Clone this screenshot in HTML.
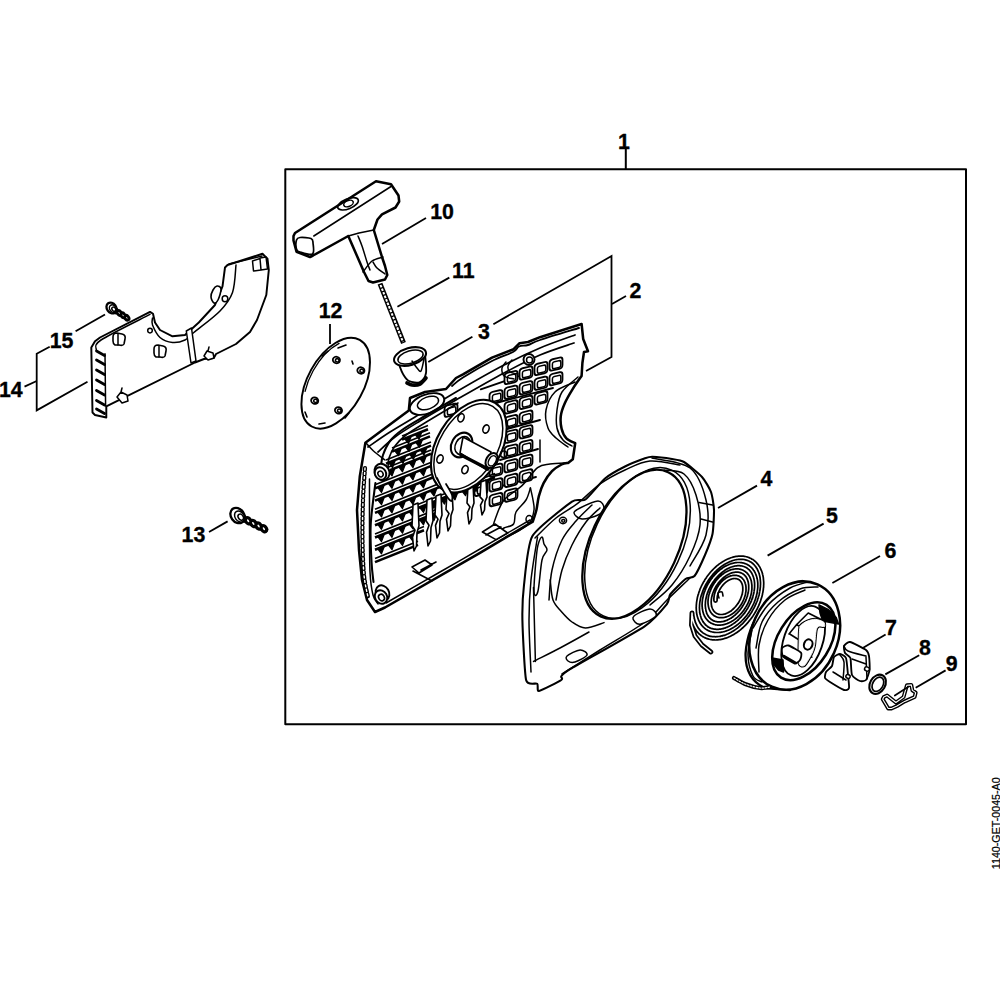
<!DOCTYPE html>
<html><head><meta charset="utf-8">
<style>
html,body{margin:0;padding:0;background:#fff;}
svg{display:block;}
text{font-family:"Liberation Sans",sans-serif;font-weight:bold;font-size:22px;fill:#000;stroke:#000;stroke-width:0.35px;text-anchor:middle;}
</style></head><body>
<svg width="1000" height="1000" viewBox="0 0 1000 1000" stroke-linejoin="round" stroke-linecap="round">
<rect width="1000" height="1000" fill="#fff"/>
<g fill="none" stroke="#000" stroke-width="2" stroke-linecap="square"><rect x="285.3" y="169.2" width="680.7" height="555"/><path d="M625.8 150 V169"/></g>
<g fill="none" stroke="#000" stroke-width="1.8" stroke-linecap="butt" stroke-linejoin="miter"><path d="M382 244 L426 218"/><path d="M397.4 306.7 L449.3 277.6"/><path d="M428.3 362 L472.4 336.8"/><path d="M493.4 324.2 L611.5 256 V357 L586 371"/><path d="M612 304 L626 296"/><path d="M330 324 V344"/><path d="M718 508 L757 485.6"/><path d="M767.6 555.6 L823.6 523.6"/><path d="M832.4 583 L880 556"/><path d="M863.2 647.7 L885.6 634.4"/><path d="M885.3 674.4 L919.2 655.2"/><path d="M915.7 687.7 L945.6 670.4"/><path d="M209 532 L227.6 521.4"/><path d="M75.6 331.3 L105 314.5"/><path d="M24.5 386.6 L36.7 381"/><path d="M49.7 346.7 L36.7 353.7 V410.4 L87.5 381.7"/></g>
<text transform="translate(624,149.3) scale(0.97,1)" x="0" y="0">1</text>
<text transform="translate(442,219.3) scale(0.97,1)" x="0" y="0">10</text>
<text transform="translate(463.3,278.1) scale(0.97,1)" x="0" y="0">11</text>
<text transform="translate(635.3,297.8) scale(0.97,1)" x="0" y="0">2</text>
<text transform="translate(484,339.0) scale(0.97,1)" x="0" y="0">3</text>
<text transform="translate(330.5,318.1) scale(0.97,1)" x="0" y="0">12</text>
<text transform="translate(766.5,485.8) scale(0.97,1)" x="0" y="0">4</text>
<text transform="translate(832,522.8) scale(0.97,1)" x="0" y="0">5</text>
<text transform="translate(890.5,557.8) scale(0.97,1)" x="0" y="0">6</text>
<text transform="translate(891,635.2) scale(0.97,1)" x="0" y="0">7</text>
<text transform="translate(925,655.2) scale(0.97,1)" x="0" y="0">8</text>
<text transform="translate(951.6,671.2) scale(0.97,1)" x="0" y="0">9</text>
<text transform="translate(193.4,542.4) scale(0.97,1)" x="0" y="0">13</text>
<text transform="translate(10.8,396.5) scale(0.97,1)" x="0" y="0">14</text>
<text transform="translate(61.6,348.2) scale(0.97,1)" x="0" y="0">15</text>
<text x="0" y="0" transform="translate(1000.3,869.2) rotate(-90) scale(0.93,1)" style="font-weight:normal;font-size:11.5px;stroke-width:0.25px;text-anchor:start">1140-GET-0045-A0</text>
<path d="M293.5 236.0 L295.0 233.0 L376.0 181.3 L391.0 184.3 L398.5 195.5 L399.2 201.5 L395.5 207.5 L382.0 214.3 L377.5 219.5 L373.8 230.0 L382.0 257.0 L385.0 266.0 L387.3 275.0 L385.0 279.5 L373.0 282.5 L368.5 281.0 L364.0 272.0 L348.3 236.0 L313.0 255.5 L310.0 257.0 L296.5 251.8 L293.5 240.5 Z" fill="#fff" stroke="#000" stroke-width="2.53" />
<path d="M313.8 236.0 L391.0 186.5" fill="none" stroke="#000" stroke-width="1.5" />
<path d="M296.5 240.0 C297.1 238.1 297.6 237.8 300.0 237.5 C302.4 237.2 308.8 237.6 311.0 238.5 C313.2 239.4 312.8 240.4 313.0 243.0 C313.2 245.6 314.7 252.5 312.5 254.0 C310.3 255.5 302.7 252.8 300.0 252.0 C297.3 251.2 297.1 251.0 296.5 249.0 C295.9 247.0 295.9 241.9 296.5 240.0 Z" fill="none" stroke="#000" stroke-width="1.72" />
<ellipse cx="348" cy="203.8" rx="11" ry="5" transform="rotate(-22 348 203.8)" fill="none" stroke="#000" stroke-width="1.61" />
<ellipse cx="348.5" cy="203.5" rx="5" ry="3" transform="rotate(-22 348.5 203.5)" fill="none" stroke="#000" stroke-width="1.5" />
<path d="M348.3 236.0 L359.0 233.0 L373.8 230.0" fill="none" stroke="#000" stroke-width="1.5" />
<path d="M358.0 236.0 C358.7 237.7 360.5 241.7 362.0 246.0 C363.5 250.3 365.7 258.0 367.0 262.0 C368.3 266.0 369.5 268.7 370.0 270.0" fill="none" stroke="#000" stroke-width="1.5" />
<path d="M363.0 272.0 C364.5 270.2 368.7 263.5 372.0 261.0 C375.3 258.5 381.2 257.7 383.0 257.0" fill="none" stroke="#000" stroke-width="1.5" />
<path d="M373.0 262.0 C373.7 263.0 375.0 266.0 377.0 268.0 C379.0 270.0 383.7 273.0 385.0 274.0" fill="none" stroke="#000" stroke-width="1.5" />
<path d="M380.0 283.6 L403.5 343.0" fill="none" stroke="#000" stroke-width="5.06" stroke-linecap="butt"/>
<path d="M380.5 285.0 L403.0 342.0" fill="none" stroke="#fff" stroke-width="2.0" stroke-dasharray="2.6 1.2" stroke-linecap="butt"/>
<path d="M399.6 366.0 C400.2 367.3 401.4 371.5 403.0 374.0 C404.6 376.5 406.2 379.7 409.0 381.0 C411.8 382.3 417.2 383.3 420.0 382.0 C422.8 380.7 425.2 377.7 426.0 373.0 C426.8 368.3 425.2 357.2 425.0 354.0" fill="#fff" stroke="#000" stroke-width="1.84" />
<ellipse cx="410" cy="356.5" rx="16.5" ry="8.5" transform="rotate(-16 410 356.5)" fill="#fff" stroke="#000" stroke-width="2.07" />
<ellipse cx="410.5" cy="357" rx="13" ry="6.2" transform="rotate(-16 410.5 357)" fill="none" stroke="#000" stroke-width="1.5" />
<path d="M407.0 383.0 C407.8 383.3 409.8 384.8 412.0 385.0 C414.2 385.2 417.7 385.2 420.0 384.0 C422.3 382.8 425.0 379.0 426.0 378.0" fill="none" stroke="#000" stroke-width="3.68" />
<path d="M412.0 361.0 C412.8 362.2 415.5 366.3 417.0 368.0 C418.5 369.7 419.8 372.5 421.0 371.0 C422.2 369.5 423.5 361.0 424.0 359.0" fill="none" stroke="#000" stroke-width="1.5" />
<ellipse cx="335.7" cy="383.2" rx="28" ry="49.5" transform="rotate(29 335.7 383.2)" fill="#fff" stroke="#000" stroke-width="1.95" />
<ellipse cx="335.7" cy="383.2" rx="25.8" ry="47.3" transform="rotate(29 335.7 383.2)" fill="none" stroke="#000" stroke-width="1.3" stroke-dasharray="60 200" stroke-dashoffset="-95"/>
<ellipse cx="336.4" cy="360" rx="3.6" ry="3.2" transform="rotate(20 336.4 360)" fill="none" stroke="#000" stroke-width="1.84" />
<ellipse cx="337.2" cy="360.3" rx="1.8" ry="1.6" transform="rotate(20 337.2 360.3)" fill="none" stroke="#000" stroke-width="1.5" />
<ellipse cx="360.9" cy="370.5" rx="3.6" ry="3.2" transform="rotate(20 360.9 370.5)" fill="none" stroke="#000" stroke-width="1.84" />
<ellipse cx="361.7" cy="370.8" rx="1.8" ry="1.6" transform="rotate(20 361.7 370.8)" fill="none" stroke="#000" stroke-width="1.5" />
<ellipse cx="314.7" cy="400.6" rx="3.6" ry="3.2" transform="rotate(20 314.7 400.6)" fill="none" stroke="#000" stroke-width="1.84" />
<ellipse cx="315.5" cy="400.90000000000003" rx="1.8" ry="1.6" transform="rotate(20 315.5 400.90000000000003)" fill="none" stroke="#000" stroke-width="1.5" />
<ellipse cx="338.5" cy="410.4" rx="3.6" ry="3.2" transform="rotate(20 338.5 410.4)" fill="none" stroke="#000" stroke-width="1.84" />
<ellipse cx="339.3" cy="410.7" rx="1.8" ry="1.6" transform="rotate(20 339.3 410.7)" fill="none" stroke="#000" stroke-width="1.5" />
<path d="M322 356 L328 351 M338 348 L346 345 M305 412 L307 417 M319 424 L325 423 M345 418 L349 413 M352 361 L353 364" fill="none" stroke="#000" stroke-width="1.61" />
<path d="M446.0 389.0 L456.0 378.0 L463.0 374.4 L492.0 357.6 L513.6 349.2 L519.6 343.2 L528.0 342.0 L540.0 337.2 L581.6 324.0 L583.2 339.0 L588.0 351.2 L584.0 352.0 L582.4 363.0 L581.6 376.0 L581.6 376.0 C580.1 378.1 575.6 384.3 572.8 388.8 C570.0 393.3 566.8 398.7 564.8 403.2 C562.8 407.7 561.3 411.7 560.8 416.0 C560.3 420.3 560.7 425.1 561.6 428.8 C562.5 432.5 564.1 436.0 566.4 438.4 C568.7 440.8 573.7 442.4 575.2 443.2 L575.2 443.2 L572.8 459.2 L568.0 463.0 L568.0 463.0 C566.9 463.2 564.3 463.1 561.6 464.5 C558.9 465.9 555.0 468.1 552.0 471.2 C549.0 474.3 545.8 479.0 543.6 483.2 C541.4 487.4 540.0 491.9 538.8 496.4 C537.6 500.9 537.4 505.8 536.4 510.0 C535.4 514.2 533.4 519.7 532.8 521.6 L532.8 521.6 L480.0 552.8 L385.0 607.5 L375.0 612.0 L367.0 600.0 L362.0 580.0 L359.0 550.0 L357.5 520.0 L357.0 510.0 L359.8 476.4 L365.4 442.8 L408.8 410.6 L410.0 398.0 L425.0 392.0 L446.0 389.0 Z" fill="#fff" stroke="#000" stroke-width="2.53" />
<path d="M578.0 377.0 C575.3 379.5 565.5 386.5 562.0 392.0 C558.5 397.5 557.8 404.0 557.0 410.0 C556.2 416.0 556.0 423.0 557.0 428.0 C558.0 433.0 560.5 437.0 563.0 440.0 C565.5 443.0 570.5 445.0 572.0 446.0" fill="none" stroke="#000" stroke-width="1.5" />
<path d="M575.0 382.0 C571.7 383.7 559.8 387.3 555.0 392.0 C550.2 396.7 547.2 404.0 546.0 410.0 C544.8 416.0 546.3 423.3 548.0 428.0 C549.7 432.7 552.7 434.8 556.0 438.0 C559.3 441.2 566.0 445.5 568.0 447.0" fill="none" stroke="#000" stroke-width="1.5" />
<path d="M579.0 328.0 C572.5 330.0 548.5 337.2 540.0 340.0 C531.5 342.8 531.5 343.9 528.0 345.0 C524.5 346.1 521.5 345.3 519.0 346.5 C516.5 347.7 517.5 349.6 513.0 352.0 C508.5 354.4 500.3 356.8 492.0 361.0 C483.7 365.2 469.7 373.3 463.0 377.5 C456.3 381.7 453.8 384.6 452.0 386.0" fill="none" stroke="#000" stroke-width="1.84" />
<path d="M575.0 335.0 C569.2 337.2 551.8 343.0 540.0 348.0 C528.2 353.0 518.0 357.7 504.0 365.0 C490.0 372.3 470.0 383.8 456.0 392.0 C442.0 400.2 431.0 407.3 420.0 414.0 C409.0 420.7 398.7 426.5 390.0 432.0 C381.3 437.5 371.7 444.5 368.0 447.0" fill="none" stroke="#000" stroke-width="1.72" />
<path d="M574.0 343.0 C568.3 345.0 551.7 350.0 540.0 355.0 C528.3 360.0 518.0 365.5 504.0 373.0 C490.0 380.5 470.0 392.0 456.0 400.0 C442.0 408.0 430.2 414.8 420.0 421.0 C409.8 427.2 402.0 431.8 395.0 437.0 C388.0 442.2 380.8 449.5 378.0 452.0" fill="none" stroke="#000" stroke-width="1.72" />
<path d="M369.5 479.0 C369.5 486.7 369.4 509.5 369.5 525.0 C369.6 540.5 369.4 560.3 370.0 572.0 C370.6 583.7 371.7 589.7 373.0 595.0 C374.3 600.3 377.2 602.5 378.0 604.0" fill="none" stroke="#000" stroke-width="1.5" />
<path d="M375.4 483.0 C374.6 490.0 371.3 511.7 370.7 525.0 C370.1 538.3 371.1 553.5 371.6 563.0 C372.1 572.5 373.2 578.8 373.5 582.0" fill="none" stroke="#000" stroke-width="2.07" />
<path d="M365.0 468.0 C364.7 473.3 363.4 488.0 363.0 500.0 C362.6 512.0 362.3 527.5 362.5 540.0 C362.7 552.5 363.1 565.5 364.0 575.0 C364.9 584.5 367.3 593.3 368.0 597.0" fill="none" stroke="#000" stroke-width="4.14" stroke-dasharray="2.5 2"/>
<path d="M365.0 468.0 C364.7 473.3 363.4 488.0 363.0 500.0 C362.6 512.0 362.3 527.5 362.5 540.0 C362.7 552.5 363.1 565.5 364.0 575.0 C364.9 584.5 367.3 593.3 368.0 597.0" fill="none" stroke="#fff" stroke-width="1.4" stroke-dasharray="2 2.5"/>
<path d="M366.0 443.0 C367.2 444.3 370.3 448.2 373.5 451.0 C376.7 453.8 383.1 458.5 385.0 460.0" fill="none" stroke="#000" stroke-width="1.5" />
<path d="M386.0 603.0 C395.0 597.8 424.3 581.0 440.0 572.0 C455.7 563.0 465.0 557.7 480.0 549.0 C495.0 540.3 521.7 524.8 530.0 520.0" fill="none" stroke="#000" stroke-width="1.5" />
<ellipse cx="427" cy="404" rx="18" ry="9.5" transform="rotate(-20 427 404)" fill="#fff" stroke="#000" stroke-width="1.95" />
<ellipse cx="428" cy="403" rx="11" ry="6" transform="rotate(-20 428 403)" fill="none" stroke="#000" stroke-width="1.5" />
<path d="M480.8 389.4 L522 375 M496 403 L553 388 M500 431 L540 420 M500 460 L538 449 M494 488 L536 477" fill="none" stroke="#000" stroke-width="1.84" />
<g fill="#fff" stroke="#000" stroke-width="1.8"><g transform="translate(451.0 410.2) skewY(-14)"><rect x="-6.5" y="-5.6" width="13" height="11.2" rx="3"/><rect x="-3.6" y="-2.6" width="8.4" height="6.8" rx="2" stroke-width="1.5"/></g><g transform="translate(481.0 489.4) skewY(-14)"><rect x="-6.5" y="-5.6" width="13" height="11.2" rx="3"/><rect x="-3.6" y="-2.6" width="8.4" height="6.8" rx="2" stroke-width="1.5"/></g><g transform="translate(496.0 396.7) skewY(-14)"><rect x="-6.5" y="-5.6" width="13" height="11.2" rx="3"/><rect x="-3.6" y="-2.6" width="8.4" height="6.8" rx="2" stroke-width="1.5"/></g><g transform="translate(496.0 470.2) skewY(-14)"><rect x="-6.5" y="-5.6" width="13" height="11.2" rx="3"/><rect x="-3.6" y="-2.6" width="8.4" height="6.8" rx="2" stroke-width="1.5"/></g><g transform="translate(496.0 484.9) skewY(-14)"><rect x="-6.5" y="-5.6" width="13" height="11.2" rx="3"/><rect x="-3.6" y="-2.6" width="8.4" height="6.8" rx="2" stroke-width="1.5"/></g><g transform="translate(496.0 499.6) skewY(-14)"><rect x="-6.5" y="-5.6" width="13" height="11.2" rx="3"/><rect x="-3.6" y="-2.6" width="8.4" height="6.8" rx="2" stroke-width="1.5"/></g><g transform="translate(511.0 377.5) skewY(-14)"><rect x="-6.5" y="-5.6" width="13" height="11.2" rx="3"/><rect x="-3.6" y="-2.6" width="8.4" height="6.8" rx="2" stroke-width="1.5"/></g><g transform="translate(511.0 392.2) skewY(-14)"><rect x="-6.5" y="-5.6" width="13" height="11.2" rx="3"/><rect x="-3.6" y="-2.6" width="8.4" height="6.8" rx="2" stroke-width="1.5"/></g><g transform="translate(511.0 406.9) skewY(-14)"><rect x="-6.5" y="-5.6" width="13" height="11.2" rx="3"/><rect x="-3.6" y="-2.6" width="8.4" height="6.8" rx="2" stroke-width="1.5"/></g><g transform="translate(511.0 421.6) skewY(-14)"><rect x="-6.5" y="-5.6" width="13" height="11.2" rx="3"/><rect x="-3.6" y="-2.6" width="8.4" height="6.8" rx="2" stroke-width="1.5"/></g><g transform="translate(511.0 436.3) skewY(-14)"><rect x="-6.5" y="-5.6" width="13" height="11.2" rx="3"/><rect x="-3.6" y="-2.6" width="8.4" height="6.8" rx="2" stroke-width="1.5"/></g><g transform="translate(511.0 451.0) skewY(-14)"><rect x="-6.5" y="-5.6" width="13" height="11.2" rx="3"/><rect x="-3.6" y="-2.6" width="8.4" height="6.8" rx="2" stroke-width="1.5"/></g><g transform="translate(511.0 465.7) skewY(-14)"><rect x="-6.5" y="-5.6" width="13" height="11.2" rx="3"/><rect x="-3.6" y="-2.6" width="8.4" height="6.8" rx="2" stroke-width="1.5"/></g><g transform="translate(511.0 480.4) skewY(-14)"><rect x="-6.5" y="-5.6" width="13" height="11.2" rx="3"/><rect x="-3.6" y="-2.6" width="8.4" height="6.8" rx="2" stroke-width="1.5"/></g><g transform="translate(511.0 495.1) skewY(-14)"><rect x="-6.5" y="-5.6" width="13" height="11.2" rx="3"/><rect x="-3.6" y="-2.6" width="8.4" height="6.8" rx="2" stroke-width="1.5"/></g><g transform="translate(526.0 373.0) skewY(-14)"><rect x="-6.5" y="-5.6" width="13" height="11.2" rx="3"/><rect x="-3.6" y="-2.6" width="8.4" height="6.8" rx="2" stroke-width="1.5"/></g><g transform="translate(526.0 387.7) skewY(-14)"><rect x="-6.5" y="-5.6" width="13" height="11.2" rx="3"/><rect x="-3.6" y="-2.6" width="8.4" height="6.8" rx="2" stroke-width="1.5"/></g><g transform="translate(526.0 402.4) skewY(-14)"><rect x="-6.5" y="-5.6" width="13" height="11.2" rx="3"/><rect x="-3.6" y="-2.6" width="8.4" height="6.8" rx="2" stroke-width="1.5"/></g><g transform="translate(526.0 417.1) skewY(-14)"><rect x="-6.5" y="-5.6" width="13" height="11.2" rx="3"/><rect x="-3.6" y="-2.6" width="8.4" height="6.8" rx="2" stroke-width="1.5"/></g><g transform="translate(526.0 431.8) skewY(-14)"><rect x="-6.5" y="-5.6" width="13" height="11.2" rx="3"/><rect x="-3.6" y="-2.6" width="8.4" height="6.8" rx="2" stroke-width="1.5"/></g><g transform="translate(526.0 446.5) skewY(-14)"><rect x="-6.5" y="-5.6" width="13" height="11.2" rx="3"/><rect x="-3.6" y="-2.6" width="8.4" height="6.8" rx="2" stroke-width="1.5"/></g><g transform="translate(526.0 461.2) skewY(-14)"><rect x="-6.5" y="-5.6" width="13" height="11.2" rx="3"/><rect x="-3.6" y="-2.6" width="8.4" height="6.8" rx="2" stroke-width="1.5"/></g><g transform="translate(526.0 475.9) skewY(-14)"><rect x="-6.5" y="-5.6" width="13" height="11.2" rx="3"/><rect x="-3.6" y="-2.6" width="8.4" height="6.8" rx="2" stroke-width="1.5"/></g><g transform="translate(541.0 368.5) skewY(-14)"><rect x="-6.5" y="-5.6" width="13" height="11.2" rx="3"/><rect x="-3.6" y="-2.6" width="8.4" height="6.8" rx="2" stroke-width="1.5"/></g><g transform="translate(541.0 383.2) skewY(-14)"><rect x="-6.5" y="-5.6" width="13" height="11.2" rx="3"/><rect x="-3.6" y="-2.6" width="8.4" height="6.8" rx="2" stroke-width="1.5"/></g><g transform="translate(541.0 397.9) skewY(-14)"><rect x="-6.5" y="-5.6" width="13" height="11.2" rx="3"/><rect x="-3.6" y="-2.6" width="8.4" height="6.8" rx="2" stroke-width="1.5"/></g><g transform="translate(556.0 364.0) skewY(-14)"><rect x="-6.5" y="-5.6" width="13" height="11.2" rx="3"/><rect x="-3.6" y="-2.6" width="8.4" height="6.8" rx="2" stroke-width="1.5"/></g><g transform="translate(556.0 378.7) skewY(-14)"><rect x="-6.5" y="-5.6" width="13" height="11.2" rx="3"/><rect x="-3.6" y="-2.6" width="8.4" height="6.8" rx="2" stroke-width="1.5"/></g></g>
<ellipse cx="529" cy="359.5" rx="5.5" ry="5.5" transform="rotate(0 529 359.5)" fill="#fff" stroke="#000" stroke-width="1.95" />
<ellipse cx="529.5" cy="360" rx="3" ry="3" transform="rotate(0 529.5 360)" fill="none" stroke="#000" stroke-width="1.5" />
<path d="M512.0 360.0 C511.3 361.0 508.3 364.0 508.0 366.0 C507.7 368.0 508.3 370.7 510.0 372.0 C511.7 373.3 516.7 373.7 518.0 374.0" fill="none" stroke="#000" stroke-width="1.5" />
<path d="M506.0 362.0 C505.3 363.0 502.3 365.7 502.0 368.0 C501.7 370.3 502.0 374.2 504.0 376.0 C506.0 377.8 512.3 378.5 514.0 379.0" fill="none" stroke="#000" stroke-width="1.5" />
<path d="M568.8 462.8 C565.7 463.0 555.2 463.2 550.0 464.0 C544.8 464.8 542.3 464.0 537.6 467.6 C532.9 471.2 527.6 480.2 522.0 485.6 C516.4 491.0 508.4 494.6 504.0 500.0 C499.6 505.4 497.6 513.0 495.6 518.0 C493.6 523.0 492.6 528.0 492.0 530.0" fill="none" stroke="#000" stroke-width="1.5" />
<path d="M530.4 488.0 C529.7 490.0 528.4 496.0 526.0 500.0 C523.6 504.0 518.1 508.0 516.0 512.0 C513.9 516.0 515.6 521.3 513.6 524.0 C511.6 526.7 506.8 526.5 504.0 528.0 C501.2 529.5 498.2 532.2 497.0 533.0" fill="none" stroke="#000" stroke-width="1.5" />
<path d="M530.4 488.0 C530.8 490.0 532.4 496.3 533.0 500.0 C533.6 503.7 534.5 506.3 534.0 510.0 C533.5 513.7 532.3 518.7 530.0 522.0 C527.7 525.3 524.0 527.5 520.0 530.0 C516.0 532.5 508.3 535.8 506.0 537.0" fill="none" stroke="#000" stroke-width="1.5" />
<ellipse cx="529.2" cy="519.2" rx="3.2" ry="3.6" transform="rotate(0 529.2 519.2)" fill="none" stroke="#000" stroke-width="1.5" />
<path d="M540 440 L540 462" fill="none" stroke="#000" stroke-width="1.5" />
<g fill="none" stroke="#000" stroke-linecap="butt"><path d="M402.0 436.0 L428.0 425.6" stroke-width="1.6"/><path d="M402.0 439.6 L428.0 429.2" stroke-width="2.6"/><path d="M404.8 438.8 L411.2 436.6 L408.5 443.7 Z M415.3 434.6 L421.7 432.4 L419.0 439.5 Z" fill="#000" stroke-width="1.2"/><path d="M392.0 448.0 L430.0 432.8" stroke-width="1.6"/><path d="M392.0 451.6 L430.0 436.4" stroke-width="2.6"/><path d="M394.8 450.8 L401.2 448.6 L398.5 455.7 Z M405.3 446.6 L411.7 444.4 L409.0 451.5 Z M415.8 442.4 L422.2 440.2 L419.5 447.3 Z" fill="#000" stroke-width="1.2"/><path d="M386.0 460.0 L431.0 442.0" stroke-width="1.6"/><path d="M386.0 463.6 L431.0 445.6" stroke-width="2.6"/><path d="M388.8 462.8 L395.2 460.6 L392.5 467.7 Z M399.3 458.6 L405.7 456.4 L403.0 463.5 Z M409.8 454.4 L416.2 452.2 L413.5 459.3 Z M420.3 450.2 L426.7 448.0 L424.0 455.1 Z" fill="#000" stroke-width="1.2"/><path d="M375.0 472.5 L431.0 450.1" stroke-width="1.6"/><path d="M375.0 476.1 L431.0 453.7" stroke-width="2.6"/><path d="M377.8 475.3 L384.2 473.1 L381.5 480.2 Z M388.3 471.1 L394.7 468.9 L392.0 476.0 Z M398.8 466.9 L405.2 464.7 L402.5 471.8 Z M409.3 462.7 L415.7 460.5 L413.0 467.6 Z M419.8 458.5 L426.2 456.3 L423.5 463.4 Z" fill="#000" stroke-width="1.2"/><path d="M375.0 484.8 L432.0 462.0" stroke-width="1.6"/><path d="M375.0 488.4 L432.0 465.6" stroke-width="2.6"/><path d="M377.8 487.6 L384.2 485.4 L381.5 492.5 Z M388.3 483.4 L394.7 481.2 L392.0 488.3 Z M398.8 479.2 L405.2 477.0 L402.5 484.1 Z M409.3 475.0 L415.7 472.8 L413.0 479.9 Z M419.8 470.8 L426.2 468.6 L423.5 475.7 Z" fill="#000" stroke-width="1.2"/><path d="M375.0 497.0 L434.0 473.4" stroke-width="1.6"/><path d="M375.0 500.6 L434.0 477.0" stroke-width="2.6"/><path d="M377.8 499.8 L384.2 497.6 L381.5 504.7 Z M388.3 495.6 L394.7 493.4 L392.0 500.5 Z M398.8 491.4 L405.2 489.2 L402.5 496.3 Z M409.3 487.2 L415.7 485.0 L413.0 492.1 Z M419.8 483.0 L426.2 480.8 L423.5 487.9 Z" fill="#000" stroke-width="1.2"/><path d="M375.0 509.3 L480.0 467.3" stroke-width="1.6"/><path d="M375.0 512.9 L480.0 470.9" stroke-width="2.6"/><path d="M377.8 512.1 L384.2 509.9 L381.5 517.0 Z M388.3 507.9 L394.7 505.7 L392.0 512.8 Z M398.8 503.7 L405.2 501.5 L402.5 508.6 Z M409.3 499.5 L415.7 497.3 L413.0 504.4 Z M419.8 495.3 L426.2 493.1 L423.5 500.2 Z M430.3 491.1 L436.7 488.9 L434.0 496.0 Z M440.8 486.9 L447.2 484.7 L444.5 491.8 Z M451.3 482.7 L457.7 480.5 L455.0 487.6 Z M461.8 478.5 L468.2 476.3 L465.5 483.4 Z M472.3 474.3 L478.7 472.1 L476.0 479.2 Z" fill="#000" stroke-width="1.2"/><path d="M375.0 521.6 L495.0 473.6" stroke-width="1.6"/><path d="M375.0 525.2 L495.0 477.2" stroke-width="2.6"/><path d="M377.8 524.4 L384.2 522.2 L381.5 529.3 Z M388.3 520.2 L394.7 518.0 L392.0 525.1 Z M398.8 516.0 L405.2 513.8 L402.5 520.9 Z M409.3 511.8 L415.7 509.6 L413.0 516.7 Z M419.8 507.6 L426.2 505.4 L423.5 512.5 Z M430.3 503.4 L436.7 501.2 L434.0 508.3 Z M440.8 499.2 L447.2 497.0 L444.5 504.1 Z M451.3 495.0 L457.7 492.8 L455.0 499.9 Z M461.8 490.8 L468.2 488.6 L465.5 495.7 Z M472.3 486.6 L478.7 484.4 L476.0 491.5 Z M482.8 482.4 L489.2 480.2 L486.5 487.3 Z" fill="#000" stroke-width="1.2"/><path d="M375.0 533.9 L440.0 507.9" stroke-width="1.6"/><path d="M375.0 537.5 L440.0 511.5" stroke-width="2.6"/><path d="M377.8 536.7 L384.2 534.5 L381.5 541.6 Z M388.3 532.5 L394.7 530.3 L392.0 537.4 Z M398.8 528.3 L405.2 526.1 L402.5 533.2 Z M409.3 524.1 L415.7 521.9 L413.0 529.0 Z M419.8 519.9 L426.2 517.7 L423.5 524.8 Z M430.3 515.7 L436.7 513.5 L434.0 520.6 Z" fill="#000" stroke-width="1.2"/><path d="M375.0 546.2 L424.0 526.6" stroke-width="1.6"/><path d="M375.0 549.8 L424.0 530.2" stroke-width="2.6"/><path d="M377.8 549.0 L384.2 546.8 L381.5 553.9 Z M388.3 544.8 L394.7 542.6 L392.0 549.7 Z M398.8 540.6 L405.2 538.4 L402.5 545.5 Z M409.3 536.4 L415.7 534.2 L413.0 541.3 Z" fill="#000" stroke-width="1.2"/><path d="M375.0 558.5 L418.0 541.3" stroke-width="1.6"/><path d="M375.0 562.1 L418.0 544.9" stroke-width="2.6"/></g>
<path d="M456.0 398.0 C450.8 401.0 434.0 410.7 425.0 416.0 C416.0 421.3 407.8 425.8 402.0 430.0 C396.2 434.2 393.2 436.8 390.0 441.0 C386.8 445.2 384.5 450.8 383.0 455.0 C381.5 459.2 381.3 464.2 381.0 466.0" fill="none" stroke="#000" stroke-width="2.07" />
<path d="M458.0 403.0 C453.0 406.0 436.7 415.7 428.0 421.0 C419.3 426.3 411.5 430.8 406.0 435.0 C400.5 439.2 397.8 442.2 395.0 446.0 C392.2 449.8 390.2 454.3 389.0 458.0 C387.8 461.7 388.2 466.3 388.0 468.0" fill="none" stroke="#000" stroke-width="1.61" />
<g fill="#fff" stroke="#000" stroke-width="1.6"><path d="M413 505 L412 525.7 L415 530.3 L412.5 537.2 L414 551 L416.5 546 L417 532.6 L419 525.7 L418 503 Z"/><path d="M427 500 L426 520.7 L429 525.3 L426.5 532.2 L428 546 L430.5 541 L431 527.6 L433 520.7 L432 498 Z"/><path d="M436 496 L435 514.9 L438 519.1 L435.5 525.4 L437 538 L439.5 533 L440 521.2 L442 514.9 L441 494 Z"/><path d="M447 492 L446 509.6 L449 513.5 L446.5 519.3 L448 531 L450.5 526 L451 515.4 L453 509.6 L452 490 Z"/><path d="M468 486 L467 503.1 L470 506.9 L467.5 512.6 L469 524 L471.5 519 L472 508.8 L474 503.1 L473 484 Z"/><path d="M481 482 L480 496.9 L483 500.1 L480.5 505.1 L482 515 L484.5 510 L485 501.8 L487 496.9 L486 480 Z"/></g>
<ellipse cx="468.8" cy="446.2" rx="50.6" ry="31.9" transform="rotate(-58.7 468.8 446.2)" fill="#fff" stroke="#000" stroke-width="2.07" />
<ellipse cx="468.3" cy="446.5" rx="47" ry="28.5" transform="rotate(-58.7 468.3 446.5)" fill="none" stroke="#000" stroke-width="1.5" />
<path d="M437.0 478.0 C438.2 480.3 441.7 488.2 444.0 492.0 C446.3 495.8 449.7 500.5 451.0 501.0 C452.3 501.5 452.8 497.8 452.0 495.0 C451.2 492.2 447.0 485.8 446.0 484.0" fill="#fff" stroke="#000" stroke-width="1.72" />
<ellipse cx="461" cy="417.8" rx="3" ry="4.2" transform="rotate(20 461 417.8)" fill="none" stroke="#000" stroke-width="1.61" />
<ellipse cx="486" cy="429" rx="3" ry="4.2" transform="rotate(20 486 429)" fill="none" stroke="#000" stroke-width="1.61" />
<ellipse cx="440" cy="459" rx="3" ry="4.2" transform="rotate(20 440 459)" fill="none" stroke="#000" stroke-width="1.61" />
<ellipse cx="465" cy="469.6" rx="3" ry="4.2" transform="rotate(20 465 469.6)" fill="none" stroke="#000" stroke-width="1.61" />
<ellipse cx="503.6" cy="454.2" rx="3.2" ry="3.2" transform="rotate(0 503.6 454.2)" fill="none" stroke="#000" stroke-width="1.5" />
<ellipse cx="461.6" cy="445" rx="10" ry="13" transform="rotate(30 461.6 445)" fill="#fff" stroke="#000" stroke-width="2.07" />
<ellipse cx="462.5" cy="445.5" rx="7" ry="9.5" transform="rotate(30 462.5 445.5)" fill="none" stroke="#000" stroke-width="1.5" />
<path d="M463 437 L491 452 L487 470 L460 453 Z" fill="#fff" stroke="#000" stroke-width="1.61" />
<path d="M461 455 L488 469" fill="none" stroke="#000" stroke-width="3.45" />
<ellipse cx="491.7" cy="460.5" rx="5.5" ry="8" transform="rotate(30 491.7 460.5)" fill="#fff" stroke="#000" stroke-width="2.07" />
<ellipse cx="492.3" cy="460.8" rx="3.5" ry="5.5" transform="rotate(30 492.3 460.8)" fill="none" stroke="#000" stroke-width="1.5" />
<path d="M412 567 L425 560 L432 565 L419 573 Z M413 571 L432 581 M421 570 L436 562" fill="#fff" stroke="#000" stroke-width="1.61" />
<path d="M482.4 532 L495 524 L507.6 533 L496 539.6 Z M486 535 L501 527" fill="#fff" stroke="#000" stroke-width="1.61" />
<path d="M374 468 L381 463 L390 470 L384 480 Z" fill="#fff" stroke="#000" stroke-width="0" />
<ellipse cx="382" cy="472" rx="7.2" ry="8.5" transform="rotate(-30 382 472)" fill="#fff" stroke="#000" stroke-width="1.95" />
<ellipse cx="380.5" cy="473.5" rx="5.5" ry="6.5" transform="rotate(-30 380.5 473.5)" fill="#fff" stroke="#000" stroke-width="1.95" />
<ellipse cx="380.5" cy="474" rx="2.5" ry="3" transform="rotate(-30 380.5 474)" fill="none" stroke="#000" stroke-width="1.5" />
<ellipse cx="382.5" cy="593" rx="6.5" ry="8" transform="rotate(-30 382.5 593)" fill="#fff" stroke="#000" stroke-width="1.95" />
<ellipse cx="381" cy="597" rx="6" ry="7" transform="rotate(-30 381 597)" fill="#fff" stroke="#000" stroke-width="1.95" />
<ellipse cx="381.5" cy="597.5" rx="2.8" ry="3.4" transform="rotate(-30 381.5 597.5)" fill="none" stroke="#000" stroke-width="1.61" />
<path d="M532.3 536.2 C537.1 527.9 566.7 505.4 572.0 501.7 C577.3 498.0 582.2 501.8 585.5 499.5 C588.8 497.2 601.0 481.8 605.0 478.5 C609.0 475.2 621.0 468.5 625.0 466.5 C629.0 464.5 642.2 459.3 645.0 458.3 C647.8 457.3 649.8 456.7 652.5 456.8 C655.2 456.9 668.9 458.5 672.0 459.0 C675.1 459.5 681.0 460.2 684.0 462.0 C687.0 463.8 699.3 474.0 702.0 477.0 C704.7 480.0 709.8 488.7 711.0 492.0 C712.2 495.3 713.9 505.8 714.0 510.0 C714.1 514.2 713.4 529.5 712.5 534.0 C711.6 538.5 706.8 550.8 705.0 555.0 C703.2 559.2 696.5 573.6 694.5 576.0 C692.5 578.4 687.9 577.2 685.5 579.0 C683.1 580.8 672.4 591.5 670.5 594.0 C668.6 596.5 669.5 600.8 666.9 604.0 C664.3 607.2 654.2 619.8 644.6 626.3 C635.0 632.8 578.8 663.9 570.5 668.9 C562.2 673.9 562.2 675.2 561.3 676.3 C560.4 677.4 563.5 678.5 561.3 680.0 C559.1 681.5 541.4 690.6 539.0 691.0 C536.6 691.4 538.5 684.8 537.2 683.7 C535.9 682.6 527.6 686.4 526.1 680.0 C524.6 673.6 522.6 629.5 522.4 620.0 C522.2 610.5 523.0 593.4 524.0 585.0 C525.0 576.6 527.5 544.5 532.3 536.2 Z" fill="#fff" stroke="#000" stroke-width="2.07" />
<path d="M535.0 538.0 C538.5 534.7 548.8 523.8 556.0 518.0 C563.2 512.2 570.7 508.9 578.0 503.2 C585.3 497.5 592.2 489.5 600.0 484.0 C607.8 478.5 616.7 473.8 625.0 470.0 C633.3 466.2 640.8 461.8 650.0 461.0 C659.2 460.2 675.0 464.3 680.0 465.0" fill="none" stroke="#000" stroke-width="1.5" />
<path d="M537.5 537.0 C536.4 544.2 532.4 566.2 531.0 580.0 C529.6 593.8 529.0 604.7 529.0 620.0 C529.0 635.3 530.7 663.3 531.0 672.0" fill="none" stroke="#000" stroke-width="1.5" />
<path d="M542.0 537.0 C543.0 536.8 543.2 541.8 544.0 544.0 C544.8 546.2 547.3 547.3 547.0 550.0 C546.7 552.7 543.5 553.2 542.0 560.0 C540.5 566.8 539.3 585.7 538.0 591.0 C536.7 596.3 534.3 597.2 534.0 592.0 C533.7 586.8 535.3 567.8 536.0 560.0 C536.7 552.2 537.0 548.8 538.0 545.0 C539.0 541.2 541.0 537.2 542.0 537.0 Z" fill="none" stroke="#000" stroke-width="1.5" />
<ellipse cx="563" cy="520.5" rx="3.6" ry="3.2" transform="rotate(0 563 520.5)" fill="none" stroke="#000" stroke-width="1.5" />
<ellipse cx="563.3" cy="520.8" rx="1.6" ry="1.4" transform="rotate(0 563.3 520.8)" fill="none" stroke="#000" stroke-width="1.5" />
<path d="M574.0 513.0 C573.7 511.2 576.0 510.0 580.0 508.0 C584.0 506.0 594.0 501.0 598.0 501.0 C602.0 501.0 604.0 505.7 604.0 508.0 C604.0 510.3 601.7 513.2 598.0 515.0 C594.3 516.8 586.0 519.3 582.0 519.0 C578.0 518.7 574.3 514.8 574.0 513.0 Z" fill="#fff" stroke="#000" stroke-width="1.5" />
<path d="M562.0 674.0 C568.3 670.0 586.2 658.7 600.0 650.0 C613.8 641.3 633.8 630.3 645.0 622.0 C656.2 613.7 659.5 607.3 667.0 600.0 C674.5 592.7 686.2 581.7 690.0 578.0" fill="none" stroke="#000" stroke-width="1.5" />
<path d="M549.0 600.0 C549.5 595.0 549.8 580.0 552.0 570.0 C554.2 560.0 558.0 548.2 562.0 540.0 C566.0 531.8 571.0 526.8 576.0 521.0 C581.0 515.2 589.3 507.7 592.0 505.0" fill="none" stroke="#000" stroke-width="1.5" />
<path d="M556.0 600.0 C557.0 595.0 559.3 579.2 562.0 570.0 C564.7 560.8 568.0 553.0 572.0 545.0 C576.0 537.0 581.3 528.2 586.0 522.0 C590.7 515.8 597.7 510.3 600.0 508.0" fill="none" stroke="#000" stroke-width="1.5" />
<path d="M550.2 580.0 C550.7 583.3 551.1 594.8 553.0 600.0 C554.9 605.2 558.1 607.8 561.3 611.5 C564.5 615.2 568.0 619.2 572.0 622.0 C576.0 624.8 580.1 627.9 585.4 628.0 C590.7 628.1 600.9 623.5 604.0 622.6" fill="none" stroke="#000" stroke-width="1.5" />
<path d="M533.5 661.5 C537.9 659.2 550.8 652.9 560.0 648.0 C569.2 643.1 584.2 634.7 589.0 632.0" fill="none" stroke="#000" stroke-width="1.5" />
<path d="M533.5 587.4 L535.4 661.5" fill="none" stroke="#000" stroke-width="1.5" />
<ellipse cx="634.4" cy="544.3" rx="43.8" ry="79.6" transform="rotate(25.1 634.4 544.3)" fill="none" stroke="#000" stroke-width="2.3" />
<ellipse cx="637.5" cy="543" rx="44.5" ry="80.5" transform="rotate(25.1 637.5 543)" fill="none" stroke="#000" stroke-width="1.5" />
<path d="M664.0 470.0 C667.3 470.7 678.7 469.8 684.0 474.0 C689.3 478.2 693.3 486.5 696.0 495.0 C698.7 503.5 701.0 514.8 700.0 525.0 C699.0 535.2 694.7 546.0 690.0 556.0 C685.3 566.0 678.7 576.8 672.0 585.0 C665.3 593.2 653.7 601.7 650.0 605.0" fill="none" stroke="#000" stroke-width="1.5" />
<path d="M652.0 458.0 C658.3 459.7 681.0 461.0 690.0 468.0 C699.0 475.0 703.3 488.8 706.0 500.0 C708.7 511.2 708.7 524.0 706.0 535.0 C703.3 546.0 692.7 560.8 690.0 566.0" fill="none" stroke="#000" stroke-width="1.5" />
<path d="M699 502.5 L712.5 505 M701 519 L712.5 522" fill="none" stroke="#000" stroke-width="1.5" />
<path d="M567.0 656.0 C569.0 654.2 576.7 650.2 580.0 650.0 C583.3 649.8 587.8 653.0 587.0 655.0 C586.2 657.0 578.2 661.0 575.0 662.0 C571.8 663.0 569.3 662.0 568.0 661.0 C566.7 660.0 565.0 657.8 567.0 656.0 Z" fill="#fff" stroke="#000" stroke-width="1.5" />
<path d="M634.0 616.0 C636.5 613.8 646.3 609.0 650.0 609.0 C653.7 609.0 657.5 613.5 656.0 616.0 C654.5 618.5 644.5 623.0 641.0 624.0 C637.5 625.0 636.2 623.3 635.0 622.0 C633.8 620.7 631.5 618.2 634.0 616.0 Z" fill="#fff" stroke="#000" stroke-width="1.5" />
<path d="M715.5 600.6 L715.5 600.2 L715.5 599.7 L715.5 599.3 L715.5 598.8 L715.5 598.3 L715.6 597.9 L715.6 597.4 L715.7 596.9 L715.7 596.4 L715.8 595.9 L715.9 595.4 L716.0 594.9 L716.2 594.4 L716.3 593.9 L716.4 593.4 L716.6 592.9 L716.8 592.4 L717.0 591.9 L717.2 591.4 L717.4 590.9 L717.6 590.4 L717.8 589.9 L718.1 589.4 L718.3 588.9 L718.6 588.4 L718.9 587.9 L719.2 587.4 L719.5 587.0 L719.8 586.5 L720.1 586.0 L720.5 585.6 L720.8 585.1 L721.2 584.7 L721.5 584.2 L721.9 583.8 L722.3 583.4 L722.6 583.0 L723.0 582.6 L723.4 582.2 L723.8 581.8 L724.3 581.4 L724.7 581.1 L725.1 580.7 L725.5 580.4 L726.0 580.1 L726.4 579.8 L726.8 579.5 L727.3 579.2 L727.7 579.0 L728.2 578.7 L728.6 578.5 L729.1 578.3 L729.5 578.0 L730.0 577.9 L730.5 577.7 L730.9 577.5 L731.4 577.4 L731.8 577.3 L732.3 577.2 L732.7 577.1 L733.2 577.0 L733.6 577.0 L734.1 576.9 L734.5 576.9 L734.9 576.9 L735.4 576.9 L735.8 577.0 L736.2 577.0 L736.6 577.1 L737.0 577.2 L737.4 577.3 L737.8 577.4 L738.2 577.5 L738.6 577.7 L739.0 577.9 L739.3 578.1 L739.7 578.3 L740.0 578.5 L740.4 578.7 L740.7 579.0 L741.0 579.3 L741.3 579.6 L741.6 579.9 L741.8 580.2 L742.1 580.6 L742.4 580.9 L742.6 581.3 L742.8 581.7 L743.0 582.1 L743.2 582.5 L743.4 582.9 L743.6 583.4 L743.7 583.8 L743.9 584.3 L744.0 584.8 L744.1 585.3 L744.2 585.8 L744.3 586.3 L744.3 586.8 L744.4 587.4 L744.4 587.9 L744.4 588.5 L744.4 589.0 L744.4 589.6 L744.4 590.2 L744.4 590.8 L744.3 591.3 L744.2 591.9 L744.1 592.5 L744.0 593.1 L743.9 593.7 L743.8 594.4 L743.6 595.0 L743.4 595.6 L743.2 596.2 L743.0 596.8 L742.8 597.4 L742.6 598.1 L742.3 598.7 L742.1 599.3 L741.8 599.9 L741.5 600.5 L741.2 601.1 L740.9 601.7 L740.6 602.3 L740.2 602.9 L739.9 603.5 L739.5 604.1 L739.1 604.6 L738.7 605.2 L738.3 605.8 L737.9 606.3 L737.5 606.8 L737.0 607.4 L736.6 607.9 L736.1 608.4 L735.6 608.9 L735.2 609.4 L734.7 609.8 L734.2 610.3 L733.7 610.7 L733.2 611.2 L732.7 611.6 L732.2 612.0 L731.6 612.4 L731.1 612.7 L730.6 613.1 L730.0 613.4 L729.5 613.7 L729.0 614.0 L728.4 614.3 L727.9 614.5 L727.3 614.8 L726.8 615.0 L726.2 615.2 L725.7 615.4 L725.1 615.6 L724.6 615.7 L724.0 615.8 L723.5 615.9 L723.0 616.0 L722.4 616.1 L721.9 616.1 L721.4 616.1 L720.8 616.1 L720.3 616.1 L719.8 616.1 L719.3 616.0 L718.8 615.9 L718.3 615.8 L717.9 615.7 L717.4 615.5 L716.9 615.3 L716.5 615.2 L716.0 614.9 L715.6 614.7 L715.2 614.5 L714.8 614.2 L714.4 613.9 L714.0 613.6 L713.7 613.2 L713.3 612.9 L713.0 612.5 L712.6 612.1 L712.3 611.7 L712.0 611.3 L711.8 610.8 L711.5 610.4 L711.3 609.9 L711.0 609.4 L710.8 608.9 L710.6 608.4 L710.4 607.8 L710.3 607.3 L710.1 606.7 L710.0 606.1 L709.9 605.5 L709.8 604.9 L709.7 604.3 L709.7 603.7 L709.6 603.0 L709.6 602.4 L709.6 601.7 L709.6 601.1 L709.7 600.4 L709.7 599.7 L709.8 599.0 L709.9 598.3 L710.0 597.6 L710.1 596.9 L710.3 596.2 L710.5 595.5 L710.6 594.8 L710.9 594.0 L711.1 593.3 L711.3 592.6 L711.6 591.9 L711.9 591.2 L712.2 590.4 L712.5 589.7 L712.8 589.0 L713.1 588.3 L713.5 587.6 L713.9 586.9 L714.3 586.2 L714.7 585.5 L715.1 584.8 L715.5 584.2 L716.0 583.5 L716.5 582.9 L716.9 582.2 L717.4 581.6 L717.9 581.0 L718.4 580.4 L719.0 579.8 L719.5 579.2 L720.1 578.6 L720.6 578.1 L721.2 577.5 L721.8 577.0 L722.4 576.5 L722.9 576.0 L723.5 575.5 L724.2 575.1 L724.8 574.7 L725.4 574.2 L726.0 573.8 L726.6 573.5 L727.3 573.1 L727.9 572.8 L728.5 572.5 L729.2 572.2 L729.8 571.9 L730.5 571.7 L731.1 571.4 L731.7 571.2 L732.4 571.1 L733.0 570.9 L733.7 570.8 L734.3 570.7 L734.9 570.6 L735.5 570.5 L736.2 570.5 L736.8 570.5 L737.4 570.5 L738.0 570.5 L738.6 570.6 L739.1 570.7 L739.7 570.8 L740.3 570.9 L740.8 571.1 L741.4 571.3 L741.9 571.5 L742.4 571.7 L742.9 572.0 L743.4 572.3 L743.9 572.6 L744.4 572.9 L744.8 573.3 L745.3 573.6 L745.7 574.0 L746.1 574.5 L746.5 574.9 L746.9 575.4 L747.2 575.8 L747.6 576.3 L747.9 576.9 L748.2 577.4 L748.5 578.0 L748.7 578.6 L749.0 579.2 L749.2 579.8 L749.4 580.4 L749.6 581.1 L749.8 581.7 L749.9 582.4 L750.0 583.1 L750.1 583.8 L750.2 584.5 L750.3 585.3 L750.3 586.0 L750.3 586.8 L750.3 587.5 L750.3 588.3 L750.3 589.1 L750.2 589.9 L750.1 590.7 L750.0 591.5 L749.9 592.3 L749.7 593.2 L749.5 594.0 L749.3 594.8 L749.1 595.6 L748.9 596.5 L748.6 597.3 L748.3 598.1 L748.0 599.0 L747.7 599.8 L747.4 600.6 L747.0 601.5 L746.6 602.3 L746.2 603.1 L745.8 603.9 L745.4 604.7 L744.9 605.5 L744.4 606.3 L743.9 607.1 L743.4 607.9 L742.9 608.6 L742.4 609.4 L741.8 610.1 L741.3 610.8 L740.7 611.6 L740.1 612.3 L739.5 612.9 L738.9 613.6 L738.2 614.3 L737.6 614.9 L736.9 615.5 L736.3 616.1 L735.6 616.7 L734.9 617.2 L734.2 617.8 L733.5 618.3 L732.8 618.8 L732.1 619.3 L731.4 619.7 L730.7 620.1 L730.0 620.5 L729.2 620.9 L728.5 621.3 L727.8 621.6 L727.0 621.9 L726.3 622.2 L725.6 622.4 L724.8 622.7 L724.1 622.9 L723.4 623.1 L722.7 623.2 L721.9 623.3 L721.2 623.4 L720.5 623.5 L719.8 623.5 L719.1 623.5 L718.4 623.5 L717.7 623.5 L717.1 623.4 L716.4 623.3 L715.7 623.2 L715.1 623.0 L714.5 622.8 L713.9 622.6 L713.3 622.4 L712.7 622.1 L712.1 621.8 L711.5 621.5 L711.0 621.1 L710.4 620.8 L709.9 620.4 L709.4 619.9 L709.0 619.5 L708.5 619.0 L708.1 618.5 L707.6 618.0 L707.2 617.4 L706.8 616.9 L706.5 616.3 L706.1 615.7 L705.8 615.0 L705.5 614.4 L705.2 613.7 L705.0 613.0 L704.8 612.3 L704.5 611.5 L704.4 610.8 L704.2 610.0 L704.1 609.2 L703.9 608.4 L703.9 607.6 L703.8 606.8 L703.7 605.9 L703.7 605.1 L703.7 604.2 L703.8 603.3 L703.8 602.4 L703.9 601.5 L704.0 600.6 L704.1 599.7 L704.3 598.8 L704.5 597.9 L704.7 596.9 L704.9 596.0 L705.1 595.1 L705.4 594.1 L705.7 593.2 L706.0 592.3 L706.4 591.3 L706.7 590.4 L707.1 589.5 L707.5 588.5 L708.0 587.6 L708.4 586.7 L708.9 585.8 L709.4 584.9 L709.9 584.0 L710.5 583.1 L711.0 582.2 L711.6 581.4 L712.2 580.5 L712.8 579.7 L713.4 578.9 L714.0 578.0 L714.7 577.3 L715.4 576.5 L716.1 575.7 L716.8 575.0 L717.5 574.3 L718.2 573.5 L718.9 572.9 L719.7 572.2 L720.4 571.6 L721.2 570.9 L722.0 570.3 L722.8 569.8 L723.6 569.2 L724.4 568.7 L725.2 568.2 L726.0 567.7 L726.8 567.3 L727.6 566.9 L728.5 566.5 L729.3 566.1 L730.1 565.8 L730.9 565.5 L731.8 565.2 L732.6 565.0 L733.4 564.7 L734.2 564.6 L735.0 564.4 L735.8 564.3 L736.6 564.2 L737.4 564.1 L738.2 564.1 L739.0 564.1 L739.8 564.1 L740.6 564.2 L741.3 564.3 L742.1 564.4 L742.8 564.5 L743.5 564.7 L744.2 565.0 L744.9 565.2 L745.6 565.5 L746.3 565.8 L746.9 566.1 L747.5 566.5 L748.1 566.9 L748.7 567.3 L749.3 567.8 L749.9 568.3 L750.4 568.8 L750.9 569.3 L751.4 569.9 L751.9 570.5 L752.3 571.1 L752.8 571.8 L753.2 572.5 L753.5 573.1 L753.9 573.9 L754.2 574.6 L754.5 575.4 L754.8 576.2 L755.1 577.0 L755.3 577.8 L755.5 578.7 L755.7 579.5 L755.9 580.4 L756.0 581.3 L756.1 582.3 L756.2 583.2 L756.2 584.1 L756.2 585.1 L756.2 586.1 L756.2 587.1 L756.1 588.1 L756.0 589.1 L755.9 590.1 L755.7 591.1 L755.6 592.1 L755.4 593.2 L755.1 594.2 L754.9 595.3 L754.6 596.3 L754.3 597.4 L754.0 598.4 L753.6 599.5 L753.2 600.5 L752.8 601.6 L752.4 602.6 L751.9 603.6 L751.4 604.7 L750.9 605.7 L750.4 606.7 L749.8 607.7 L749.3 608.7 L748.7 609.7 L748.0 610.7 L747.4 611.7 L746.7 612.6 L746.1 613.6 L745.4 614.5 L744.6 615.4 L743.9 616.3 L743.2 617.1 L742.4 618.0 L741.6 618.8 L740.8 619.6 L740.0 620.4 L739.2 621.2 L738.4 621.9 L737.5 622.6 L736.6 623.3 L735.8 624.0 L734.9 624.6 L734.0 625.2 L733.1 625.8 L732.2 626.4 L731.3 626.9 L730.4 627.4 L729.5 627.8 L728.6 628.3 L727.7 628.7 L726.8 629.0 L725.8 629.4 L724.9 629.7 L724.0 630.0 L723.1 630.2 L722.2 630.4 L721.3 630.6 L720.4 630.7 L719.5 630.8 L718.6 630.9 L717.7 630.9 L716.9 630.9 L716.0 630.9 L715.1 630.8 L714.3 630.7 L713.5 630.6 L712.7 630.4 L711.9 630.2 L711.1 630.0 L710.3 629.7 L709.6 629.4 L708.8 629.1 L708.1 628.7 L707.4 628.3 L706.7 627.8 L706.1 627.3 L705.5 626.8 L704.8 626.3 L704.2 625.7 L703.7 625.1 L703.1 624.5 L702.6 623.8 L702.1 623.2 L701.6 622.4 L701.2 621.7 L700.8 620.9 L700.4 620.1 L700.0 619.3 L699.7 618.5 L699.4 617.6 L699.1 616.7 L698.8 615.8 L698.6 614.8 L698.4 613.9 L698.2 612.9 L698.1 611.9 L698.0 610.9 L697.9 609.9 L697.9 608.8 L697.8 607.7 L697.9 606.7 L697.9 605.6 L698.0 604.5 L698.1 603.4 L698.2 602.3 L698.4 601.1 L698.6 600.0 L698.8 598.9 L699.0 597.7 L699.3 596.6 L699.6 595.4 L700.0 594.3 L700.4 593.1 L700.8 591.9 L701.2 590.8 L701.6 589.6 L702.1 588.5 L702.6 587.4 L703.2 586.2 L703.7 585.1 L704.3 584.0 L704.9 582.9 L705.6 581.8 L706.2 580.7 L706.9 579.6 L707.6 578.6 L708.3 577.5 L709.1 576.5 L709.9 575.5 L710.7 574.5 L711.5 573.5 L712.3 572.6 L713.1 571.7 L714.0 570.8 L714.9 569.9 L715.8 569.0 L716.7 568.2 L717.6 567.4 L718.5 566.6 L719.5 565.9 L720.4 565.1 L721.4 564.5 L722.4 563.8 L723.4 563.2 L724.4 562.6 L725.4 562.0 L726.4 561.5 L727.4 561.0 L728.4 560.5 L729.4 560.1 L730.4 559.7 L731.4 559.3 L732.4 559.0 L733.4 558.7 L734.4 558.4 L735.4 558.2 L736.4 558.0 L737.4 557.9 L738.4 557.8 L739.4 557.7 L740.3 557.7 L741.3 557.7 L742.2 557.7 L743.2 557.8 L744.1 557.9 L745.0 558.1 L745.9 558.3 L746.7 558.5 L747.6 558.8 L748.4 559.1 L749.3 559.5 L750.1 559.8 L750.9 560.3 L751.6 560.7 L752.4 561.2 L753.1 561.7 L753.8 562.3 L754.5 562.9 L755.1 563.5 L755.7 564.2 L756.3 564.9 L756.9 565.6 L757.4 566.4 L758.0 567.2 L758.5 568.0 L758.9 568.9 L759.3 569.8 L759.7 570.7 L760.1 571.6 L760.5 572.6 L760.8 573.6 L761.0 574.6 L761.3 575.6 L761.5 576.7 L761.7 577.7 L761.8 578.8 L761.9 580.0 L762.0 581.1 L762.1 582.3 L762.1 583.4 L762.1 584.6 L762.0 585.8 L762.0 587.0 L761.8 588.2 L761.7 589.5 L761.5 590.7 L761.3 592.0 L761.0 593.2 L760.8 594.5 L760.5 595.7 L760.1 597.0 L759.7 598.3 L759.3 599.5 L758.9 600.8 L758.4 602.1 L757.9 603.3 L757.4 604.6 L756.8 605.8 L756.2 607.1 L755.6 608.3 L755.0 609.5 L754.3 610.7 L753.6 611.9 L752.9 613.1 L752.1 614.3 L751.4 615.5 L750.6 616.6 L749.7 617.7 L748.9 618.8 L748.0 619.9 L747.1 621.0 L746.2 622.0 L745.3 623.0 L744.4 624.0 L743.4 625.0 L742.4 625.9 L741.4 626.8 L740.4 627.7 L739.4 628.6 L738.4 629.4 L737.3 630.2 L736.3 630.9 L735.2 631.7 L734.1 632.3 L733.1 633.0 L732.0 633.6 L730.9 634.2 L729.8 634.8 L728.7 635.3 L727.6 635.7 L726.5 636.2 L725.4 636.6 L724.3 636.9 L723.2 637.3 L722.1 637.5 L721.0 637.8 L719.9 638.0 L718.8 638.1 L717.8 638.2 L716.7 638.3 L715.6 638.4 L714.6 638.3 L713.6 638.3 L712.6 638.2 L711.5 638.1 L710.6 637.9 L709.6 637.7 L708.6 637.4 L707.7 637.1 L706.8 636.8 L705.9 636.4 L705.0 636.0 L704.2 635.5 L703.3 635.0 L702.5 634.5 L701.7 633.9 L701.0 633.3 L700.2 632.7 L699.5 632.0 L698.9 631.3 L698.2 630.5 L697.6 629.7 L697.0 628.9 L696.4 628.0 L695.9 627.1 L695.4 626.2 L694.9 625.2 L694.5 624.2 L694.1 623.2 L693.7 622.2 L693.4 621.1 L693.1 620.0 L692.8 618.9 L692.6 617.7 L692.4 616.6 L692.2 615.4 L692.1 614.2 L692.0 612.9 L691.5 625.0 L695.0 636.0 L702.0 645.0 L710.8 652.0" fill="none" stroke="#000" stroke-width="4.94" />
<path d="M715.5 600.6 L715.5 600.2 L715.5 599.7 L715.5 599.3 L715.5 598.8 L715.5 598.3 L715.6 597.9 L715.6 597.4 L715.7 596.9 L715.7 596.4 L715.8 595.9 L715.9 595.4 L716.0 594.9 L716.2 594.4 L716.3 593.9 L716.4 593.4 L716.6 592.9 L716.8 592.4 L717.0 591.9 L717.2 591.4 L717.4 590.9 L717.6 590.4 L717.8 589.9 L718.1 589.4 L718.3 588.9 L718.6 588.4 L718.9 587.9 L719.2 587.4 L719.5 587.0 L719.8 586.5 L720.1 586.0 L720.5 585.6 L720.8 585.1 L721.2 584.7 L721.5 584.2 L721.9 583.8 L722.3 583.4 L722.6 583.0 L723.0 582.6 L723.4 582.2 L723.8 581.8 L724.3 581.4 L724.7 581.1 L725.1 580.7 L725.5 580.4 L726.0 580.1 L726.4 579.8 L726.8 579.5 L727.3 579.2 L727.7 579.0 L728.2 578.7 L728.6 578.5 L729.1 578.3 L729.5 578.0 L730.0 577.9 L730.5 577.7 L730.9 577.5 L731.4 577.4 L731.8 577.3 L732.3 577.2 L732.7 577.1 L733.2 577.0 L733.6 577.0 L734.1 576.9 L734.5 576.9 L734.9 576.9 L735.4 576.9 L735.8 577.0 L736.2 577.0 L736.6 577.1 L737.0 577.2 L737.4 577.3 L737.8 577.4 L738.2 577.5 L738.6 577.7 L739.0 577.9 L739.3 578.1 L739.7 578.3 L740.0 578.5 L740.4 578.7 L740.7 579.0 L741.0 579.3 L741.3 579.6 L741.6 579.9 L741.8 580.2 L742.1 580.6 L742.4 580.9 L742.6 581.3 L742.8 581.7 L743.0 582.1 L743.2 582.5 L743.4 582.9 L743.6 583.4 L743.7 583.8 L743.9 584.3 L744.0 584.8 L744.1 585.3 L744.2 585.8 L744.3 586.3 L744.3 586.8 L744.4 587.4 L744.4 587.9 L744.4 588.5 L744.4 589.0 L744.4 589.6 L744.4 590.2 L744.4 590.8 L744.3 591.3 L744.2 591.9 L744.1 592.5 L744.0 593.1 L743.9 593.7 L743.8 594.4 L743.6 595.0 L743.4 595.6 L743.2 596.2 L743.0 596.8 L742.8 597.4 L742.6 598.1 L742.3 598.7 L742.1 599.3 L741.8 599.9 L741.5 600.5 L741.2 601.1 L740.9 601.7 L740.6 602.3 L740.2 602.9 L739.9 603.5 L739.5 604.1 L739.1 604.6 L738.7 605.2 L738.3 605.8 L737.9 606.3 L737.5 606.8 L737.0 607.4 L736.6 607.9 L736.1 608.4 L735.6 608.9 L735.2 609.4 L734.7 609.8 L734.2 610.3 L733.7 610.7 L733.2 611.2 L732.7 611.6 L732.2 612.0 L731.6 612.4 L731.1 612.7 L730.6 613.1 L730.0 613.4 L729.5 613.7 L729.0 614.0 L728.4 614.3 L727.9 614.5 L727.3 614.8 L726.8 615.0 L726.2 615.2 L725.7 615.4 L725.1 615.6 L724.6 615.7 L724.0 615.8 L723.5 615.9 L723.0 616.0 L722.4 616.1 L721.9 616.1 L721.4 616.1 L720.8 616.1 L720.3 616.1 L719.8 616.1 L719.3 616.0 L718.8 615.9 L718.3 615.8 L717.9 615.7 L717.4 615.5 L716.9 615.3 L716.5 615.2 L716.0 614.9 L715.6 614.7 L715.2 614.5 L714.8 614.2 L714.4 613.9 L714.0 613.6 L713.7 613.2 L713.3 612.9 L713.0 612.5 L712.6 612.1 L712.3 611.7 L712.0 611.3 L711.8 610.8 L711.5 610.4 L711.3 609.9 L711.0 609.4 L710.8 608.9 L710.6 608.4 L710.4 607.8 L710.3 607.3 L710.1 606.7 L710.0 606.1 L709.9 605.5 L709.8 604.9 L709.7 604.3 L709.7 603.7 L709.6 603.0 L709.6 602.4 L709.6 601.7 L709.6 601.1 L709.7 600.4 L709.7 599.7 L709.8 599.0 L709.9 598.3 L710.0 597.6 L710.1 596.9 L710.3 596.2 L710.5 595.5 L710.6 594.8 L710.9 594.0 L711.1 593.3 L711.3 592.6 L711.6 591.9 L711.9 591.2 L712.2 590.4 L712.5 589.7 L712.8 589.0 L713.1 588.3 L713.5 587.6 L713.9 586.9 L714.3 586.2 L714.7 585.5 L715.1 584.8 L715.5 584.2 L716.0 583.5 L716.5 582.9 L716.9 582.2 L717.4 581.6 L717.9 581.0 L718.4 580.4 L719.0 579.8 L719.5 579.2 L720.1 578.6 L720.6 578.1 L721.2 577.5 L721.8 577.0 L722.4 576.5 L722.9 576.0 L723.5 575.5 L724.2 575.1 L724.8 574.7 L725.4 574.2 L726.0 573.8 L726.6 573.5 L727.3 573.1 L727.9 572.8 L728.5 572.5 L729.2 572.2 L729.8 571.9 L730.5 571.7 L731.1 571.4 L731.7 571.2 L732.4 571.1 L733.0 570.9 L733.7 570.8 L734.3 570.7 L734.9 570.6 L735.5 570.5 L736.2 570.5 L736.8 570.5 L737.4 570.5 L738.0 570.5 L738.6 570.6 L739.1 570.7 L739.7 570.8 L740.3 570.9 L740.8 571.1 L741.4 571.3 L741.9 571.5 L742.4 571.7 L742.9 572.0 L743.4 572.3 L743.9 572.6 L744.4 572.9 L744.8 573.3 L745.3 573.6 L745.7 574.0 L746.1 574.5 L746.5 574.9 L746.9 575.4 L747.2 575.8 L747.6 576.3 L747.9 576.9 L748.2 577.4 L748.5 578.0 L748.7 578.6 L749.0 579.2 L749.2 579.8 L749.4 580.4 L749.6 581.1 L749.8 581.7 L749.9 582.4 L750.0 583.1 L750.1 583.8 L750.2 584.5 L750.3 585.3 L750.3 586.0 L750.3 586.8 L750.3 587.5 L750.3 588.3 L750.3 589.1 L750.2 589.9 L750.1 590.7 L750.0 591.5 L749.9 592.3 L749.7 593.2 L749.5 594.0 L749.3 594.8 L749.1 595.6 L748.9 596.5 L748.6 597.3 L748.3 598.1 L748.0 599.0 L747.7 599.8 L747.4 600.6 L747.0 601.5 L746.6 602.3 L746.2 603.1 L745.8 603.9 L745.4 604.7 L744.9 605.5 L744.4 606.3 L743.9 607.1 L743.4 607.9 L742.9 608.6 L742.4 609.4 L741.8 610.1 L741.3 610.8 L740.7 611.6 L740.1 612.3 L739.5 612.9 L738.9 613.6 L738.2 614.3 L737.6 614.9 L736.9 615.5 L736.3 616.1 L735.6 616.7 L734.9 617.2 L734.2 617.8 L733.5 618.3 L732.8 618.8 L732.1 619.3 L731.4 619.7 L730.7 620.1 L730.0 620.5 L729.2 620.9 L728.5 621.3 L727.8 621.6 L727.0 621.9 L726.3 622.2 L725.6 622.4 L724.8 622.7 L724.1 622.9 L723.4 623.1 L722.7 623.2 L721.9 623.3 L721.2 623.4 L720.5 623.5 L719.8 623.5 L719.1 623.5 L718.4 623.5 L717.7 623.5 L717.1 623.4 L716.4 623.3 L715.7 623.2 L715.1 623.0 L714.5 622.8 L713.9 622.6 L713.3 622.4 L712.7 622.1 L712.1 621.8 L711.5 621.5 L711.0 621.1 L710.4 620.8 L709.9 620.4 L709.4 619.9 L709.0 619.5 L708.5 619.0 L708.1 618.5 L707.6 618.0 L707.2 617.4 L706.8 616.9 L706.5 616.3 L706.1 615.7 L705.8 615.0 L705.5 614.4 L705.2 613.7 L705.0 613.0 L704.8 612.3 L704.5 611.5 L704.4 610.8 L704.2 610.0 L704.1 609.2 L703.9 608.4 L703.9 607.6 L703.8 606.8 L703.7 605.9 L703.7 605.1 L703.7 604.2 L703.8 603.3 L703.8 602.4 L703.9 601.5 L704.0 600.6 L704.1 599.7 L704.3 598.8 L704.5 597.9 L704.7 596.9 L704.9 596.0 L705.1 595.1 L705.4 594.1 L705.7 593.2 L706.0 592.3 L706.4 591.3 L706.7 590.4 L707.1 589.5 L707.5 588.5 L708.0 587.6 L708.4 586.7 L708.9 585.8 L709.4 584.9 L709.9 584.0 L710.5 583.1 L711.0 582.2 L711.6 581.4 L712.2 580.5 L712.8 579.7 L713.4 578.9 L714.0 578.0 L714.7 577.3 L715.4 576.5 L716.1 575.7 L716.8 575.0 L717.5 574.3 L718.2 573.5 L718.9 572.9 L719.7 572.2 L720.4 571.6 L721.2 570.9 L722.0 570.3 L722.8 569.8 L723.6 569.2 L724.4 568.7 L725.2 568.2 L726.0 567.7 L726.8 567.3 L727.6 566.9 L728.5 566.5 L729.3 566.1 L730.1 565.8 L730.9 565.5 L731.8 565.2 L732.6 565.0 L733.4 564.7 L734.2 564.6 L735.0 564.4 L735.8 564.3 L736.6 564.2 L737.4 564.1 L738.2 564.1 L739.0 564.1 L739.8 564.1 L740.6 564.2 L741.3 564.3 L742.1 564.4 L742.8 564.5 L743.5 564.7 L744.2 565.0 L744.9 565.2 L745.6 565.5 L746.3 565.8 L746.9 566.1 L747.5 566.5 L748.1 566.9 L748.7 567.3 L749.3 567.8 L749.9 568.3 L750.4 568.8 L750.9 569.3 L751.4 569.9 L751.9 570.5 L752.3 571.1 L752.8 571.8 L753.2 572.5 L753.5 573.1 L753.9 573.9 L754.2 574.6 L754.5 575.4 L754.8 576.2 L755.1 577.0 L755.3 577.8 L755.5 578.7 L755.7 579.5 L755.9 580.4 L756.0 581.3 L756.1 582.3 L756.2 583.2 L756.2 584.1 L756.2 585.1 L756.2 586.1 L756.2 587.1 L756.1 588.1 L756.0 589.1 L755.9 590.1 L755.7 591.1 L755.6 592.1 L755.4 593.2 L755.1 594.2 L754.9 595.3 L754.6 596.3 L754.3 597.4 L754.0 598.4 L753.6 599.5 L753.2 600.5 L752.8 601.6 L752.4 602.6 L751.9 603.6 L751.4 604.7 L750.9 605.7 L750.4 606.7 L749.8 607.7 L749.3 608.7 L748.7 609.7 L748.0 610.7 L747.4 611.7 L746.7 612.6 L746.1 613.6 L745.4 614.5 L744.6 615.4 L743.9 616.3 L743.2 617.1 L742.4 618.0 L741.6 618.8 L740.8 619.6 L740.0 620.4 L739.2 621.2 L738.4 621.9 L737.5 622.6 L736.6 623.3 L735.8 624.0 L734.9 624.6 L734.0 625.2 L733.1 625.8 L732.2 626.4 L731.3 626.9 L730.4 627.4 L729.5 627.8 L728.6 628.3 L727.7 628.7 L726.8 629.0 L725.8 629.4 L724.9 629.7 L724.0 630.0 L723.1 630.2 L722.2 630.4 L721.3 630.6 L720.4 630.7 L719.5 630.8 L718.6 630.9 L717.7 630.9 L716.9 630.9 L716.0 630.9 L715.1 630.8 L714.3 630.7 L713.5 630.6 L712.7 630.4 L711.9 630.2 L711.1 630.0 L710.3 629.7 L709.6 629.4 L708.8 629.1 L708.1 628.7 L707.4 628.3 L706.7 627.8 L706.1 627.3 L705.5 626.8 L704.8 626.3 L704.2 625.7 L703.7 625.1 L703.1 624.5 L702.6 623.8 L702.1 623.2 L701.6 622.4 L701.2 621.7 L700.8 620.9 L700.4 620.1 L700.0 619.3 L699.7 618.5 L699.4 617.6 L699.1 616.7 L698.8 615.8 L698.6 614.8 L698.4 613.9 L698.2 612.9 L698.1 611.9 L698.0 610.9 L697.9 609.9 L697.9 608.8 L697.8 607.7 L697.9 606.7 L697.9 605.6 L698.0 604.5 L698.1 603.4 L698.2 602.3 L698.4 601.1 L698.6 600.0 L698.8 598.9 L699.0 597.7 L699.3 596.6 L699.6 595.4 L700.0 594.3 L700.4 593.1 L700.8 591.9 L701.2 590.8 L701.6 589.6 L702.1 588.5 L702.6 587.4 L703.2 586.2 L703.7 585.1 L704.3 584.0 L704.9 582.9 L705.6 581.8 L706.2 580.7 L706.9 579.6 L707.6 578.6 L708.3 577.5 L709.1 576.5 L709.9 575.5 L710.7 574.5 L711.5 573.5 L712.3 572.6 L713.1 571.7 L714.0 570.8 L714.9 569.9 L715.8 569.0 L716.7 568.2 L717.6 567.4 L718.5 566.6 L719.5 565.9 L720.4 565.1 L721.4 564.5 L722.4 563.8 L723.4 563.2 L724.4 562.6 L725.4 562.0 L726.4 561.5 L727.4 561.0 L728.4 560.5 L729.4 560.1 L730.4 559.7 L731.4 559.3 L732.4 559.0 L733.4 558.7 L734.4 558.4 L735.4 558.2 L736.4 558.0 L737.4 557.9 L738.4 557.8 L739.4 557.7 L740.3 557.7 L741.3 557.7 L742.2 557.7 L743.2 557.8 L744.1 557.9 L745.0 558.1 L745.9 558.3 L746.7 558.5 L747.6 558.8 L748.4 559.1 L749.3 559.5 L750.1 559.8 L750.9 560.3 L751.6 560.7 L752.4 561.2 L753.1 561.7 L753.8 562.3 L754.5 562.9 L755.1 563.5 L755.7 564.2 L756.3 564.9 L756.9 565.6 L757.4 566.4 L758.0 567.2 L758.5 568.0 L758.9 568.9 L759.3 569.8 L759.7 570.7 L760.1 571.6 L760.5 572.6 L760.8 573.6 L761.0 574.6 L761.3 575.6 L761.5 576.7 L761.7 577.7 L761.8 578.8 L761.9 580.0 L762.0 581.1 L762.1 582.3 L762.1 583.4 L762.1 584.6 L762.0 585.8 L762.0 587.0 L761.8 588.2 L761.7 589.5 L761.5 590.7 L761.3 592.0 L761.0 593.2 L760.8 594.5 L760.5 595.7 L760.1 597.0 L759.7 598.3 L759.3 599.5 L758.9 600.8 L758.4 602.1 L757.9 603.3 L757.4 604.6 L756.8 605.8 L756.2 607.1 L755.6 608.3 L755.0 609.5 L754.3 610.7 L753.6 611.9 L752.9 613.1 L752.1 614.3 L751.4 615.5 L750.6 616.6 L749.7 617.7 L748.9 618.8 L748.0 619.9 L747.1 621.0 L746.2 622.0 L745.3 623.0 L744.4 624.0 L743.4 625.0 L742.4 625.9 L741.4 626.8 L740.4 627.7 L739.4 628.6 L738.4 629.4 L737.3 630.2 L736.3 630.9 L735.2 631.7 L734.1 632.3 L733.1 633.0 L732.0 633.6 L730.9 634.2 L729.8 634.8 L728.7 635.3 L727.6 635.7 L726.5 636.2 L725.4 636.6 L724.3 636.9 L723.2 637.3 L722.1 637.5 L721.0 637.8 L719.9 638.0 L718.8 638.1 L717.8 638.2 L716.7 638.3 L715.6 638.4 L714.6 638.3 L713.6 638.3 L712.6 638.2 L711.5 638.1 L710.6 637.9 L709.6 637.7 L708.6 637.4 L707.7 637.1 L706.8 636.8 L705.9 636.4 L705.0 636.0 L704.2 635.5 L703.3 635.0 L702.5 634.5 L701.7 633.9 L701.0 633.3 L700.2 632.7 L699.5 632.0 L698.9 631.3 L698.2 630.5 L697.6 629.7 L697.0 628.9 L696.4 628.0 L695.9 627.1 L695.4 626.2 L694.9 625.2 L694.5 624.2 L694.1 623.2 L693.7 622.2 L693.4 621.1 L693.1 620.0 L692.8 618.9 L692.6 617.7 L692.4 616.6 L692.2 615.4 L692.1 614.2 L692.0 612.9 L691.5 625.0 L695.0 636.0 L702.0 645.0 L710.8 652.0" fill="none" stroke="#fff" stroke-width="1.5" />
<path d="M719.0 598.0 C718.8 597.2 717.5 594.0 718.0 593.0 C718.5 592.0 721.2 591.5 722.0 592.0 C722.8 592.5 722.8 595.3 723.0 596.0" fill="none" stroke="#000" stroke-width="1.61" />
<path d="M802 581 C770 590 748 620 745.6 653 C745 670 752 682 765 688 L790 690 L800 640 Z" fill="#fff" stroke="#000" stroke-width="2.3" />
<ellipse cx="794.7" cy="635.6" rx="43" ry="56" transform="rotate(24 794.7 635.6)" fill="#fff" stroke="#000" stroke-width="2.53" />
<path d="M753.0 628.0 C755.5 624.2 761.8 611.7 768.0 605.0 C774.2 598.3 783.3 591.8 790.0 588.0 C796.7 584.2 805.0 583.0 808.0 582.0" fill="none" stroke="#000" stroke-width="1.5" />
<path d="M756.0 648.0 C757.0 643.7 758.3 629.7 762.0 622.0 C765.7 614.3 771.7 607.5 778.0 602.0 C784.3 596.5 793.3 591.5 800.0 589.0 C806.7 586.5 815.0 587.3 818.0 587.0" fill="none" stroke="#000" stroke-width="1.5" />
<path d="M759.0 672.0 C759.0 667.5 757.5 653.7 759.0 645.0 C760.5 636.3 763.7 627.5 768.0 620.0 C772.3 612.5 778.8 605.0 785.0 600.0 C791.2 595.0 801.7 591.7 805.0 590.0" fill="none" stroke="#000" stroke-width="1.5" />
<path d="M752.0 630.0 C751.3 634.2 747.8 647.3 748.0 655.0 C748.2 662.7 750.7 671.5 753.0 676.0 C755.3 680.5 760.5 681.0 762.0 682.0" fill="none" stroke="#000" stroke-width="1.5" />
<ellipse cx="803.8" cy="641.3" rx="25.9" ry="42.9" transform="rotate(32 803.8 641.3)" fill="#fff" stroke="#000" stroke-width="2.53" />
<ellipse cx="803.2" cy="641" rx="19.4" ry="36.5" transform="rotate(19.1 803.2 641)" fill="#fff" stroke="#000" stroke-width="1.84" />
<path d="M819 604.9 L828 609.4 L836.2 617.5 L838.5 624 L822.7 621.1 L820 613 Z" fill="#000" stroke="#000" stroke-width="1.5" />
<path d="M772.2 658 L783 659.9 L783.5 672 L778.5 670 L773.1 663.5 Z" fill="#000" stroke="#000" stroke-width="1.5" />
<path d="M789.3 633.7 L799.2 640 M796.5 624.7 L800.1 626.5 M808.2 613 L822.7 620.2 M803.7 630 L810 632.8 M806.4 652.7 L811.8 657.2 M789 634 L796.5 624.7 L808.2 613" fill="none" stroke="#000" stroke-width="1.61" />
<path d="M800.1 626.5 C801.0 624.3 805.5 621.9 807.3 621.1 C809.1 620.3 813.6 619.2 815.5 619.3 C817.4 619.4 822.6 621.2 823.6 622.0 C824.6 622.8 825.0 626.0 824.5 626.5 C824.0 627.0 819.9 625.7 819.0 626.0 C818.1 626.3 816.8 628.1 816.4 629.2 C816.0 630.3 815.7 633.6 815.5 635.5 C815.3 637.4 814.9 643.4 814.5 645.5 C814.1 647.6 813.0 651.3 811.8 653.6 C810.6 655.9 806.1 664.1 804.6 665.3 C803.1 666.5 799.8 666.5 799.2 663.5 C798.6 660.5 799.1 644.3 799.2 640.0 C799.3 635.7 799.2 628.7 800.1 626.5 Z" fill="none" stroke="#000" stroke-width="2.99" />
<path d="M800.1 626.5 C801.0 624.3 805.5 621.9 807.3 621.1 C809.1 620.3 813.6 619.2 815.5 619.3 C817.4 619.4 822.6 621.2 823.6 622.0 C824.6 622.8 825.0 626.0 824.5 626.5 C824.0 627.0 819.9 625.7 819.0 626.0 C818.1 626.3 816.8 628.1 816.4 629.2 C816.0 630.3 815.7 633.6 815.5 635.5 C815.3 637.4 814.9 643.4 814.5 645.5 C814.1 647.6 813.0 651.3 811.8 653.6 C810.6 655.9 806.1 664.1 804.6 665.3 C803.1 666.5 799.8 666.5 799.2 663.5 C798.6 660.5 799.1 644.3 799.2 640.0 C799.3 635.7 799.2 628.7 800.1 626.5 Z" fill="#fff" stroke="#fff" stroke-width="0.9" />
<ellipse cx="808.2" cy="644.5" rx="4.2" ry="5.2" transform="rotate(20 808.2 644.5)" fill="none" stroke="#000" stroke-width="2.07" />
<path d="M782.1 648.2 C782.6 647.1 786.5 645.0 788.4 645.5 C790.3 646.0 799.8 651.3 801.0 652.7 C802.2 654.1 800.7 658.8 800.1 659.9 C799.5 661.0 796.4 663.9 794.7 663.5 C793.0 663.1 784.3 657.8 783.0 656.3 C781.7 654.8 781.6 649.3 782.1 648.2 Z" fill="#fff" stroke="#000" stroke-width="1.84" />
<path d="M784 656 L796 663" fill="none" stroke="#000" stroke-width="2.53" />
<path d="M734.0 678.0 C735.8 679.0 740.7 682.3 745.0 684.0 C749.3 685.7 755.8 687.5 760.0 688.0 C764.2 688.5 768.3 687.2 770.0 687.0" fill="none" stroke="#000" stroke-width="4.14" />
<path d="M734.0 678.0 C735.8 679.0 740.7 682.3 745.0 684.0 C749.3 685.7 755.8 687.5 760.0 688.0 C764.2 688.5 768.3 687.2 770.0 687.0" fill="none" stroke="#fff" stroke-width="1.2" stroke-dasharray="1.5 1.5"/>
<path d="M844.0 646.0 C844.5 644.9 847.8 641.6 850.0 642.0 C852.2 642.4 864.1 648.6 866.0 650.0 C867.9 651.4 868.6 654.0 869.0 656.0 C869.4 658.0 869.9 667.6 869.6 670.0 C869.3 672.4 867.0 678.9 866.0 680.0 C865.0 681.1 861.4 681.5 860.0 681.0 C858.6 680.5 853.0 677.3 852.0 675.0 C851.0 672.7 851.1 660.2 850.4 658.0 C849.7 655.8 845.6 654.2 845.0 653.0 C844.4 651.8 843.5 647.1 844.0 646.0 Z" fill="#fff" stroke="#000" stroke-width="1.84" />
<path d="M844.0 646.0 C844.7 646.8 844.3 649.3 848.0 651.0 C851.7 652.7 863.0 655.2 866.0 656.0" fill="none" stroke="#000" stroke-width="1.5" />
<path d="M852 659 L866 664 M866 657 L867 679" fill="none" stroke="#000" stroke-width="1.5" />
<ellipse cx="867" cy="669" rx="2.5" ry="2" transform="rotate(20 867 669)" fill="#fff" stroke="#000" stroke-width="1.5" />
<path d="M826.0 672.0 C826.7 670.8 831.2 667.5 832.0 666.0 C832.8 664.5 833.2 658.2 834.0 657.0 C834.8 655.8 838.8 653.9 840.0 654.0 C841.2 654.1 845.2 655.9 846.0 658.0 C846.8 660.1 847.7 672.0 848.0 675.0 C848.3 678.0 849.4 686.5 849.0 688.0 C848.6 689.5 845.9 690.6 844.0 690.0 C842.1 689.4 831.9 683.2 830.0 682.0 C828.1 680.8 825.4 679.0 825.0 678.0 C824.6 677.0 825.3 673.2 826.0 672.0 Z" fill="#fff" stroke="#000" stroke-width="1.84" />
<path d="M833.0 672.0 C835.2 673.3 843.8 678.7 846.0 680.0" fill="none" stroke="#000" stroke-width="1.5" />
<path d="M840.0 655.0 C840.7 656.2 843.5 657.8 844.0 662.0 C844.5 666.2 843.2 677.0 843.0 680.0" fill="none" stroke="#000" stroke-width="1.5" />
<ellipse cx="848" cy="676.5" rx="2.2" ry="1.8" transform="rotate(20 848 676.5)" fill="#fff" stroke="#000" stroke-width="1.5" />
<ellipse cx="877.6" cy="684.3" rx="7.6" ry="10.2" transform="rotate(30 877.6 684.3)" fill="none" stroke="#000" stroke-width="2.07" />
<ellipse cx="877.9" cy="684.3" rx="5.2" ry="7.6" transform="rotate(30 877.9 684.3)" fill="none" stroke="#000" stroke-width="1.72" />
<path d="M883.8 697.0 L887.1 695.5 L895.9 702.5 L903.6 697.0 L906.9 685.2 L911.3 684.9 L912.4 690.4 L915.7 692.6 L914.6 697.0 L904.7 701.4 L897.0 706.0 L891.5 708.5 L888.2 708.5 L886.0 704.7 L882.7 699.2 Z" fill="none" stroke="#000" stroke-width="3.91" />
<path d="M883.8 697.0 L887.1 695.5 L895.9 702.5 L903.6 697.0 L906.9 685.2 L911.3 684.9 L912.4 690.4 L915.7 692.6 L914.6 697.0 L904.7 701.4 L897.0 706.0 L891.5 708.5 L888.2 708.5 L886.0 704.7 L882.7 699.2 Z" fill="none" stroke="#fff" stroke-width="1.1" />
<path d="M894.8 695.5 L908 687.1" fill="none" stroke="#000" stroke-width="1.72" />
<path d="M91.3 347.5 L95.0 341.3 L100.0 337.5 L150.0 311.9 L153.0 313.8 L155.0 322.5 L160.0 330.0 L172.5 336.3 L185.0 335.0 L198.8 322.5 L215.0 305.0 L222.5 286.3 L225.0 267.5 L227.5 265.0 L262.5 253.8 L267.5 258.8 L268.8 270.0 L266.3 295.0 L257.0 320.0 L250.0 332.0 L236.0 344.0 L216.0 354.0 L213.8 358.0 L204.0 359.0 L195.0 362.5 L106.3 406.3 L106.3 417.5 L95.0 415.0 L92.5 412.5 Z" fill="#fff" stroke="#000" stroke-width="1.95" />
<path d="M96.3 350.0 C97.1 348.3 92.0 345.9 101.0 340.0 C110.0 334.1 141.8 318.7 150.0 314.4" fill="none" stroke="#000" stroke-width="1.5" />
<path d="M152.5 318.0 C152.5 319.2 151.2 321.8 152.5 325.0 C153.8 328.2 156.7 334.6 160.0 337.5 C163.3 340.4 168.3 342.1 172.5 342.5 C176.7 342.9 181.4 341.7 185.0 340.0 C188.6 338.3 188.0 337.3 193.8 332.5 C199.6 327.7 213.6 317.7 220.0 311.0 C226.4 304.3 229.8 300.2 232.5 292.5 C235.2 284.8 235.4 269.6 236.0 265.0" fill="none" stroke="#000" stroke-width="1.5" />
<path d="M229.0 264.0 L262.0 256.0" fill="none" stroke="#000" stroke-width="1.5" />
<path d="M105.0 353.8 L105.6 406.0" fill="none" stroke="#000" stroke-width="1.5" />
<path d="M96.5 351 L104.5 355.5 M96.5 360 L104.5 364.5 M96.5 370 L104.5 374.5 M96.5 380 L104.5 384.5 M96.5 390.5 L104.5 395.0 M96.5 400.5 L104.5 405.0 M96.5 409 L104.5 413.5" stroke="#000" stroke-width="2.8" fill="none"/>
<ellipse cx="150" cy="330.6" rx="2.3" ry="2.3" transform="rotate(0 150 330.6)" fill="none" stroke="#000" stroke-width="1.5" />
<ellipse cx="225" cy="298.8" rx="2.8" ry="3" transform="rotate(0 225 298.8)" fill="none" stroke="#000" stroke-width="1.5" />
<path d="M213.0 290.0 C214.0 288.2 215.7 286.2 217.0 286.0 C218.3 285.8 220.8 286.7 221.0 289.0 C221.2 291.3 219.2 297.7 218.0 300.0 C216.8 302.3 215.2 303.5 214.0 303.0 C212.8 302.5 211.2 299.2 211.0 297.0 C210.8 294.8 212.0 291.8 213.0 290.0 Z" fill="#fff" stroke="#000" stroke-width="1.61" />
<path d="M113 337 Q113 333 117 333 L122 334 Q126 335 125 339 L124 344 Q123 346 119 345 L115 345 Q113 344 113 341 Z" fill="#fff" stroke="#000" stroke-width="1.61" />
<path d="M118 334 L118 345" fill="none" stroke="#000" stroke-width="1.5" />
<path d="M154 349 Q154 345 158 345 L163 346 Q167 347 166 351 L165 356 Q164 358 160 357 L156 357 Q154 356 154 353 Z" fill="#fff" stroke="#000" stroke-width="1.61" />
<path d="M159 346 L159 357" fill="none" stroke="#000" stroke-width="1.5" />
<path d="M186.3 331 L191.5 328 L196 361 L191 363 Z" fill="#fff" stroke="#000" stroke-width="1.5" />
<path d="M252.5 261 L260 258.5 L261 270 L253.5 271 Z M260 258 L266 257 L267.5 269 L261 270" fill="#fff" stroke="#000" stroke-width="1.5" />
<path d="M117 397 L121 392 L127 395 L128 401 L122 403 Z M121 392 L122 388" fill="#fff" stroke="#000" stroke-width="1.5" />
<path d="M204 356 L207 351 L213 353 L214 358 L208 360 Z M208 351 L209 347" fill="#fff" stroke="#000" stroke-width="1.5" />
<ellipse cx="126.8" cy="317.8" rx="2.25" ry="3.0" transform="rotate(-35 126.8 317.8)" fill="#fff" stroke="#000" stroke-width="2.07" />
<ellipse cx="123.0" cy="315.3" rx="2.25" ry="3.0" transform="rotate(-35 123.0 315.3)" fill="#fff" stroke="#000" stroke-width="2.07" />
<ellipse cx="119.2" cy="312.9" rx="2.25" ry="3.0" transform="rotate(-35 119.2 312.9)" fill="#fff" stroke="#000" stroke-width="2.07" />
<ellipse cx="115.3" cy="310.4" rx="2.25" ry="3.0" transform="rotate(-35 115.3 310.4)" fill="#fff" stroke="#000" stroke-width="2.07" />
<path d="M111.5 308.0 L128.0 318.5" fill="none" stroke="#000" stroke-width="4.14" />
<ellipse cx="126.8" cy="317.8" rx="1.2000000000000002" ry="1.7999999999999998" transform="rotate(-35 126.8 317.8)" fill="#fff" stroke="#000" stroke-width="1.5" />
<ellipse cx="123.0" cy="315.3" rx="1.2000000000000002" ry="1.7999999999999998" transform="rotate(-35 123.0 315.3)" fill="#fff" stroke="#000" stroke-width="1.5" />
<ellipse cx="119.2" cy="312.9" rx="1.2000000000000002" ry="1.7999999999999998" transform="rotate(-35 119.2 312.9)" fill="#fff" stroke="#000" stroke-width="1.5" />
<ellipse cx="115.3" cy="310.4" rx="1.2000000000000002" ry="1.7999999999999998" transform="rotate(-35 115.3 310.4)" fill="#fff" stroke="#000" stroke-width="1.5" />
<ellipse cx="111.5" cy="308" rx="4.64" ry="5.8" transform="rotate(-35 111.5 308)" fill="#fff" stroke="#000" stroke-width="2.3" />
<ellipse cx="112.95" cy="308.696" rx="3.19" ry="4.176" transform="rotate(-35 112.95 308.696)" fill="#fff" stroke="#000" stroke-width="1.5" />
<ellipse cx="113.82" cy="309.16" rx="1.74" ry="2.32" transform="rotate(-35 113.82 309.16)" fill="#fff" stroke="#000" stroke-width="1.5" />
<ellipse cx="263.9" cy="528.7" rx="3.0" ry="4.0" transform="rotate(-35 263.9 528.7)" fill="#fff" stroke="#000" stroke-width="2.07" />
<ellipse cx="258.6" cy="526.1" rx="3.0" ry="4.0" transform="rotate(-35 258.6 526.1)" fill="#fff" stroke="#000" stroke-width="2.07" />
<ellipse cx="253.3" cy="523.4" rx="3.0" ry="4.0" transform="rotate(-35 253.3 523.4)" fill="#fff" stroke="#000" stroke-width="2.07" />
<ellipse cx="248.1" cy="520.8" rx="3.0" ry="4.0" transform="rotate(-35 248.1 520.8)" fill="#fff" stroke="#000" stroke-width="2.07" />
<ellipse cx="242.8" cy="518.1" rx="3.0" ry="4.0" transform="rotate(-35 242.8 518.1)" fill="#fff" stroke="#000" stroke-width="2.07" />
<path d="M237.5 515.5 L265.5 529.5" fill="none" stroke="#000" stroke-width="5.52" />
<ellipse cx="263.9" cy="528.7" rx="1.6" ry="2.4" transform="rotate(-35 263.9 528.7)" fill="#fff" stroke="#000" stroke-width="1.5" />
<ellipse cx="258.6" cy="526.1" rx="1.6" ry="2.4" transform="rotate(-35 258.6 526.1)" fill="#fff" stroke="#000" stroke-width="1.5" />
<ellipse cx="253.3" cy="523.4" rx="1.6" ry="2.4" transform="rotate(-35 253.3 523.4)" fill="#fff" stroke="#000" stroke-width="1.5" />
<ellipse cx="248.1" cy="520.8" rx="1.6" ry="2.4" transform="rotate(-35 248.1 520.8)" fill="#fff" stroke="#000" stroke-width="1.5" />
<ellipse cx="242.8" cy="518.1" rx="1.6" ry="2.4" transform="rotate(-35 242.8 518.1)" fill="#fff" stroke="#000" stroke-width="1.5" />
<ellipse cx="237.5" cy="515.5" rx="6.56" ry="8.2" transform="rotate(-35 237.5 515.5)" fill="#fff" stroke="#000" stroke-width="2.3" />
<ellipse cx="239.55" cy="516.484" rx="4.51" ry="5.903999999999999" transform="rotate(-35 239.55 516.484)" fill="#fff" stroke="#000" stroke-width="1.5" />
<ellipse cx="240.78" cy="517.14" rx="2.4599999999999995" ry="3.28" transform="rotate(-35 240.78 517.14)" fill="#fff" stroke="#000" stroke-width="1.5" />
</svg>
</body></html>
